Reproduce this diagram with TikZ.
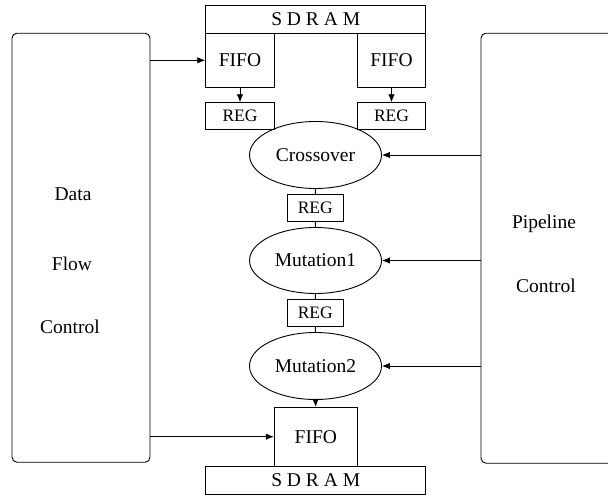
\documentclass[tikz,border=0pt]{standalone}
\usepackage{fontspec}
\setmainfont{Liberation Serif}
\usetikzlibrary{shapes.geometric,arrows.meta}
\begin{document}
\begin{tikzpicture}[x=1pt,y=-1pt,
  every node/.style={font=\fontsize{19.5}{23}\selectfont, inner sep=0pt},
  box/.style={draw, line width=0.9pt, rectangle},
  regbox/.style={box, font=\fontsize{17.5}{20}\selectfont},
  oval/.style={draw, line width=0.9pt, ellipse, minimum width=132pt, minimum height=66pt},
  panel/.style={draw, line width=0.9pt, rounded corners=5pt},
  conn/.style={line width=0.9pt},
  arr/.style={conn, -{Latex[length=8pt,width=6.5pt]}},
  lbl/.style={anchor=base}
]
\useasboundingbox (0,0) rectangle (608,498);
\clip (0,0) rectangle (608,498);
% side panels
\node[panel, minimum width=138pt, minimum height=429pt] (left) at (81,247.7) {};
\node[panel, minimum width=150pt, minimum height=430pt] (right) at (556,248.2) {};
\node[lbl] (t1) at (73,200.7) {Data};
\node[lbl] (t2) at (72,270) {Flow};
\node[lbl] (t3) at (70,333.3) {Control};
\node[lbl] (t4) at (544,228.3) {Pipeline};
\node[lbl] (t5) at (546,292.3) {Control};
% top memory
\node[box, minimum width=220pt, minimum height=28.3pt] (sdT) at (315.7,19.2) {S D R A M};
\node[box, minimum width=68.6pt, minimum height=54pt] (fifoL) at (240,60.3) {FIFO};
\node[box, minimum width=68.6pt, minimum height=54pt] (fifoR) at (391.5,60.3) {FIFO};
\node[regbox, minimum width=68.6pt, minimum height=26.6pt] (regL) at (240,116) {REG};
\node[regbox, minimum width=68.6pt, minimum height=26.6pt] (regR) at (391.5,116) {REG};
% pipeline
\node[oval, minimum height=67pt] (cross) at (315.5,155) {Crossover};
\node[regbox, minimum width=56pt, minimum height=27.4pt] (reg1) at (315.3,208) {REG};
\node[oval] (mut1) at (315.5,260.5) {Mutation1};
\node[regbox, minimum width=56pt, minimum height=27.4pt] (reg2) at (315.3,313) {REG};
\node[oval, minimum height=67pt] (mut2) at (315.5,366) {Mutation2};
% bottom memory
\node[box, minimum width=83pt, minimum height=58.7pt] (fifoB) at (315.8,436.7) {FIFO};
\node[box, minimum width=220pt, minimum height=28pt] (sdB) at (315.7,480) {S D R A M};
% connectors
\draw[arr] (fifoL.west -| left.east) -- (fifoL.west);
\draw[arr] (fifoB.west -| left.east) -- (fifoB.west);
\draw[arr] (fifoL.south) -- (regL.north);
\draw[arr] (fifoR.south) -- (regR.north);
\draw[conn] (cross.south) -- (reg1.north);
\draw[conn] (reg1.south) -- (mut1.north);
\draw[conn] (mut1.south) -- (reg2.north);
\draw[conn] (reg2.south) -- (mut2.north);
\draw[arr] (mut2.south) -- (fifoB.north);
\draw[arr] (cross.east -| right.west) -- (cross.east);
\draw[arr] (mut1.east -| right.west) -- (mut1.east);
\draw[arr] (mut2.east -| right.west) -- (mut2.east);
\end{tikzpicture}
\end{document}
